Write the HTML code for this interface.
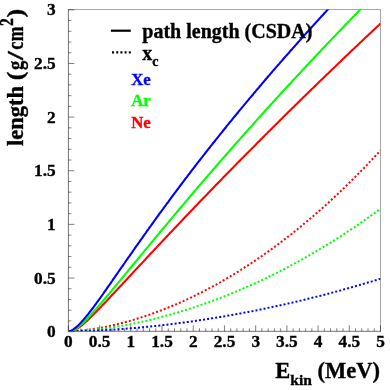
<!DOCTYPE html>
<html><head><meta charset="utf-8"><title>chart</title>
<style>
html,body{margin:0;padding:0;background:#fff;}
body{width:390px;height:390px;overflow:hidden;}
svg{display:block;}
text{font-family:"Liberation Serif",serif;font-weight:bold;fill:#000;stroke:#000;stroke-width:0.35;}
</style></head><body>
<svg width="390" height="390" viewBox="0 0 390 390">
<defs><clipPath id="cp"><rect x="68.4" y="9.5" width="312.1" height="321.8"/></clipPath></defs>
<rect x="0" y="0" width="390" height="390" fill="#fff"/>
<path d="M68.4,9.5 H380.5 V331.3" fill="none" stroke="#000" stroke-width="0.35"/>
<path d="M68.4,9.0 V331.3 H381.0" fill="none" stroke="#000" stroke-width="0.55"/>
<path d="M68.40,331.3 v-6 M74.64,331.3 v-3 M80.88,331.3 v-3 M87.13,331.3 v-3 M93.37,331.3 v-3 M99.61,331.3 v-6 M105.85,331.3 v-3 M112.09,331.3 v-3 M118.34,331.3 v-3 M124.58,331.3 v-3 M130.82,331.3 v-6 M137.06,331.3 v-3 M143.30,331.3 v-3 M149.55,331.3 v-3 M155.79,331.3 v-3 M162.03,331.3 v-6 M168.27,331.3 v-3 M174.51,331.3 v-3 M180.76,331.3 v-3 M187.00,331.3 v-3 M193.24,331.3 v-6 M199.48,331.3 v-3 M205.72,331.3 v-3 M211.97,331.3 v-3 M218.21,331.3 v-3 M224.45,331.3 v-6 M230.69,331.3 v-3 M236.93,331.3 v-3 M243.18,331.3 v-3 M249.42,331.3 v-3 M255.66,331.3 v-6 M261.90,331.3 v-3 M268.14,331.3 v-3 M274.39,331.3 v-3 M280.63,331.3 v-3 M286.87,331.3 v-6 M293.11,331.3 v-3 M299.35,331.3 v-3 M305.60,331.3 v-3 M311.84,331.3 v-3 M318.08,331.3 v-6 M324.32,331.3 v-3 M330.56,331.3 v-3 M336.81,331.3 v-3 M343.05,331.3 v-3 M349.29,331.3 v-6 M355.53,331.3 v-3 M361.77,331.3 v-3 M368.02,331.3 v-3 M374.26,331.3 v-3 M380.50,331.3 v-6 M68.4,331.65 h6 M68.4,320.92 h3 M68.4,310.20 h3 M68.4,299.47 h3 M68.4,288.74 h3 M68.4,278.02 h6 M68.4,267.29 h3 M68.4,256.56 h3 M68.4,245.83 h3 M68.4,235.11 h3 M68.4,224.38 h6 M68.4,213.65 h3 M68.4,202.93 h3 M68.4,192.20 h3 M68.4,181.47 h3 M68.4,170.75 h6 M68.4,160.02 h3 M68.4,149.29 h3 M68.4,138.56 h3 M68.4,127.84 h3 M68.4,117.11 h6 M68.4,106.38 h3 M68.4,95.66 h3 M68.4,84.93 h3 M68.4,74.20 h3 M68.4,63.48 h6 M68.4,52.75 h3 M68.4,42.02 h3 M68.4,31.29 h3 M68.4,20.57 h3 M68.4,9.84 h6" stroke="#000" stroke-width="0.5" fill="none"/>
<g clip-path="url(#cp)" fill="none" stroke-linejoin="round">
<path d="M68.4,331.3 L69.6,331.3 L70.9,331.2 L72.1,331.2 L73.4,331.1 L74.6,331.1 L75.9,331.0 L77.1,330.9 L78.4,330.8 L79.6,330.7 L80.9,330.6 L82.1,330.4 L83.4,330.3 L84.6,330.2 L85.9,330.0 L87.1,329.9 L88.4,329.7 L89.6,329.5 L90.9,329.4 L92.1,329.2 L93.4,329.0 L94.6,328.8 L95.9,328.6 L97.1,328.4 L98.4,328.2 L99.6,327.9 L100.9,327.7 L102.1,327.5 L103.4,327.3 L104.6,327.0 L105.9,326.8 L107.1,326.5 L108.3,326.2 L109.6,326.0 L110.8,325.7 L112.1,325.4 L113.3,325.1 L114.6,324.9 L115.8,324.6 L117.1,324.3 L118.3,323.9 L119.6,323.6 L120.8,323.3 L122.1,323.0 L123.3,322.7 L124.6,322.3 L125.8,322.0 L127.1,321.7 L128.3,321.3 L129.6,321.0 L130.8,320.6 L132.1,320.2 L133.3,319.9 L134.6,319.5 L135.8,319.1 L137.1,318.7 L138.3,318.3 L139.6,318.0 L140.8,317.6 L142.1,317.1 L143.3,316.7 L144.6,316.3 L145.8,315.9 L147.0,315.5 L148.3,315.1 L149.5,314.6 L150.8,314.2 L152.0,313.7 L153.3,313.3 L154.5,312.8 L155.8,312.4 L157.0,311.9 L158.3,311.4 L159.5,311.0 L160.8,310.5 L162.0,310.0 L163.3,309.5 L164.5,309.0 L165.8,308.5 L167.0,308.0 L168.3,307.5 L169.5,307.0 L170.8,306.5 L172.0,306.0 L173.3,305.5 L174.5,304.9 L175.8,304.4 L177.0,303.9 L178.3,303.3 L179.5,302.8 L180.8,302.2 L182.0,301.6 L183.3,301.1 L184.5,300.5 L185.7,299.9 L187.0,299.4 L188.2,298.8 L189.5,298.2 L190.7,297.6 L192.0,297.0 L193.2,296.4 L194.5,295.8 L195.7,295.2 L197.0,294.6 L198.2,293.9 L199.5,293.3 L200.7,292.7 L202.0,292.1 L203.2,291.4 L204.5,290.8 L205.7,290.1 L207.0,289.5 L208.2,288.8 L209.5,288.1 L210.7,287.5 L212.0,286.8 L213.2,286.1 L214.5,285.4 L215.7,284.8 L217.0,284.1 L218.2,283.4 L219.5,282.7 L220.7,282.0 L222.0,281.2 L223.2,280.5 L224.5,279.8 L225.7,279.1 L226.9,278.4 L228.2,277.6 L229.4,276.9 L230.7,276.1 L231.9,275.4 L233.2,274.6 L234.4,273.9 L235.7,273.1 L236.9,272.3 L238.2,271.6 L239.4,270.8 L240.7,270.0 L241.9,269.2 L243.2,268.4 L244.4,267.6 L245.7,266.8 L246.9,266.0 L248.2,265.2 L249.4,264.4 L250.7,263.6 L251.9,262.7 L253.2,261.9 L254.4,261.1 L255.7,260.2 L256.9,259.4 L258.2,258.5 L259.4,257.7 L260.7,256.8 L261.9,256.0 L263.2,255.1 L264.4,254.2 L265.6,253.3 L266.9,252.4 L268.1,251.6 L269.4,250.7 L270.6,249.8 L271.9,248.9 L273.1,248.0 L274.4,247.0 L275.6,246.1 L276.9,245.2 L278.1,244.3 L279.4,243.3 L280.6,242.4 L281.9,241.4 L283.1,240.5 L284.4,239.5 L285.6,238.6 L286.9,237.6 L288.1,236.6 L289.4,235.7 L290.6,234.7 L291.9,233.7 L293.1,232.7 L294.4,231.7 L295.6,230.7 L296.9,229.7 L298.1,228.7 L299.4,227.7 L300.6,226.7 L301.9,225.7 L303.1,224.6 L304.3,223.6 L305.6,222.5 L306.8,221.5 L308.1,220.4 L309.3,219.4 L310.6,218.3 L311.8,217.3 L313.1,216.2 L314.3,215.1 L315.6,214.0 L316.8,212.9 L318.1,211.9 L319.3,210.8 L320.6,209.7 L321.8,208.5 L323.1,207.4 L324.3,206.3 L325.6,205.2 L326.8,204.1 L328.1,202.9 L329.3,201.8 L330.6,200.6 L331.8,199.5 L333.1,198.3 L334.3,197.2 L335.6,196.0 L336.8,194.8 L338.1,193.7 L339.3,192.5 L340.6,191.3 L341.8,190.1 L343.0,188.9 L344.3,187.7 L345.5,186.5 L346.8,185.3 L348.0,184.0 L349.3,182.8 L350.5,181.6 L351.8,180.3 L353.0,179.1 L354.3,177.9 L355.5,176.6 L356.8,175.3 L358.0,174.1 L359.3,172.8 L360.5,171.5 L361.8,170.3 L363.0,169.0 L364.3,167.7 L365.5,166.4 L366.8,165.1 L368.0,163.8 L369.3,162.4 L370.5,161.1 L371.8,159.8 L373.0,158.5 L374.3,157.1 L375.5,155.8 L376.8,154.4 L378.0,153.1 L379.3,151.7 L380.5,150.4" stroke="#f00" stroke-width="2" stroke-dasharray="2 2.1"/>
<path d="M68.4,331.3 L69.6,331.3 L70.9,331.3 L72.1,331.2 L73.4,331.2 L74.6,331.1 L75.9,331.1 L77.1,331.0 L78.4,331.0 L79.6,330.9 L80.9,330.8 L82.1,330.7 L83.4,330.6 L84.6,330.5 L85.9,330.4 L87.1,330.3 L88.4,330.2 L89.6,330.1 L90.9,330.0 L92.1,329.9 L93.4,329.7 L94.6,329.6 L95.9,329.5 L97.1,329.3 L98.4,329.2 L99.6,329.0 L100.9,328.9 L102.1,328.7 L103.4,328.6 L104.6,328.4 L105.9,328.2 L107.1,328.1 L108.3,327.9 L109.6,327.7 L110.8,327.5 L112.1,327.3 L113.3,327.1 L114.6,326.9 L115.8,326.7 L117.1,326.5 L118.3,326.3 L119.6,326.1 L120.8,325.9 L122.1,325.7 L123.3,325.5 L124.6,325.2 L125.8,325.0 L127.1,324.8 L128.3,324.5 L129.6,324.3 L130.8,324.0 L132.1,323.8 L133.3,323.6 L134.6,323.3 L135.8,323.0 L137.1,322.8 L138.3,322.5 L139.6,322.2 L140.8,322.0 L142.1,321.7 L143.3,321.4 L144.6,321.1 L145.8,320.9 L147.0,320.6 L148.3,320.3 L149.5,320.0 L150.8,319.7 L152.0,319.4 L153.3,319.1 L154.5,318.8 L155.8,318.5 L157.0,318.1 L158.3,317.8 L159.5,317.5 L160.8,317.2 L162.0,316.8 L163.3,316.5 L164.5,316.2 L165.8,315.8 L167.0,315.5 L168.3,315.2 L169.5,314.8 L170.8,314.5 L172.0,314.1 L173.3,313.7 L174.5,313.4 L175.8,313.0 L177.0,312.6 L178.3,312.3 L179.5,311.9 L180.8,311.5 L182.0,311.1 L183.3,310.8 L184.5,310.4 L185.7,310.0 L187.0,309.6 L188.2,309.2 L189.5,308.8 L190.7,308.4 L192.0,308.0 L193.2,307.6 L194.5,307.2 L195.7,306.7 L197.0,306.3 L198.2,305.9 L199.5,305.5 L200.7,305.1 L202.0,304.6 L203.2,304.2 L204.5,303.7 L205.7,303.3 L207.0,302.9 L208.2,302.4 L209.5,302.0 L210.7,301.5 L212.0,301.0 L213.2,300.6 L214.5,300.1 L215.7,299.7 L217.0,299.2 L218.2,298.7 L219.5,298.2 L220.7,297.8 L222.0,297.3 L223.2,296.8 L224.5,296.3 L225.7,295.8 L226.9,295.3 L228.2,294.8 L229.4,294.3 L230.7,293.8 L231.9,293.3 L233.2,292.8 L234.4,292.3 L235.7,291.7 L236.9,291.2 L238.2,290.7 L239.4,290.2 L240.7,289.6 L241.9,289.1 L243.2,288.6 L244.4,288.0 L245.7,287.5 L246.9,286.9 L248.2,286.4 L249.4,285.8 L250.7,285.3 L251.9,284.7 L253.2,284.1 L254.4,283.6 L255.7,283.0 L256.9,282.4 L258.2,281.8 L259.4,281.3 L260.7,280.7 L261.9,280.1 L263.2,279.5 L264.4,278.9 L265.6,278.3 L266.9,277.7 L268.1,277.1 L269.4,276.5 L270.6,275.9 L271.9,275.3 L273.1,274.7 L274.4,274.0 L275.6,273.4 L276.9,272.8 L278.1,272.2 L279.4,271.5 L280.6,270.9 L281.9,270.2 L283.1,269.6 L284.4,269.0 L285.6,268.3 L286.9,267.7 L288.1,267.0 L289.4,266.3 L290.6,265.7 L291.9,265.0 L293.1,264.3 L294.4,263.7 L295.6,263.0 L296.9,262.3 L298.1,261.6 L299.4,260.9 L300.6,260.2 L301.9,259.5 L303.1,258.8 L304.3,258.1 L305.6,257.4 L306.8,256.7 L308.1,256.0 L309.3,255.3 L310.6,254.6 L311.8,253.9 L313.1,253.1 L314.3,252.4 L315.6,251.7 L316.8,250.9 L318.1,250.2 L319.3,249.5 L320.6,248.7 L321.8,248.0 L323.1,247.2 L324.3,246.5 L325.6,245.7 L326.8,244.9 L328.1,244.2 L329.3,243.4 L330.6,242.6 L331.8,241.9 L333.1,241.1 L334.3,240.3 L335.6,239.5 L336.8,238.7 L338.1,237.9 L339.3,237.1 L340.6,236.3 L341.8,235.5 L343.0,234.7 L344.3,233.9 L345.5,233.1 L346.8,232.2 L348.0,231.4 L349.3,230.6 L350.5,229.8 L351.8,228.9 L353.0,228.1 L354.3,227.3 L355.5,226.4 L356.8,225.6 L358.0,224.7 L359.3,223.8 L360.5,223.0 L361.8,222.1 L363.0,221.3 L364.3,220.4 L365.5,219.5 L366.8,218.6 L368.0,217.7 L369.3,216.9 L370.5,216.0 L371.8,215.1 L373.0,214.2 L374.3,213.3 L375.5,212.4 L376.8,211.5 L378.0,210.6 L379.3,209.6 L380.5,208.7" stroke="#0f0" stroke-width="2" stroke-dasharray="2 2.1"/>
<path d="M68.4,331.3 L69.6,331.3 L70.9,331.3 L72.1,331.3 L73.4,331.3 L74.6,331.2 L75.9,331.2 L77.1,331.2 L78.4,331.2 L79.6,331.2 L80.9,331.1 L82.1,331.1 L83.4,331.1 L84.6,331.0 L85.9,331.0 L87.1,330.9 L88.4,330.9 L89.6,330.9 L90.9,330.8 L92.1,330.8 L93.4,330.7 L94.6,330.7 L95.9,330.6 L97.1,330.5 L98.4,330.5 L99.6,330.4 L100.9,330.4 L102.1,330.3 L103.4,330.2 L104.6,330.2 L105.9,330.1 L107.1,330.0 L108.3,330.0 L109.6,329.9 L110.8,329.8 L112.1,329.7 L113.3,329.6 L114.6,329.6 L115.8,329.5 L117.1,329.4 L118.3,329.3 L119.6,329.2 L120.8,329.1 L122.1,329.0 L123.3,328.9 L124.6,328.8 L125.8,328.7 L127.1,328.6 L128.3,328.5 L129.6,328.4 L130.8,328.3 L132.1,328.2 L133.3,328.1 L134.6,328.0 L135.8,327.9 L137.1,327.8 L138.3,327.7 L139.6,327.6 L140.8,327.5 L142.1,327.3 L143.3,327.2 L144.6,327.1 L145.8,327.0 L147.0,326.8 L148.3,326.7 L149.5,326.6 L150.8,326.5 L152.0,326.3 L153.3,326.2 L154.5,326.1 L155.8,325.9 L157.0,325.8 L158.3,325.7 L159.5,325.5 L160.8,325.4 L162.0,325.2 L163.3,325.1 L164.5,325.0 L165.8,324.8 L167.0,324.7 L168.3,324.5 L169.5,324.4 L170.8,324.2 L172.0,324.0 L173.3,323.9 L174.5,323.7 L175.8,323.6 L177.0,323.4 L178.3,323.3 L179.5,323.1 L180.8,322.9 L182.0,322.8 L183.3,322.6 L184.5,322.4 L185.7,322.3 L187.0,322.1 L188.2,321.9 L189.5,321.7 L190.7,321.6 L192.0,321.4 L193.2,321.2 L194.5,321.0 L195.7,320.8 L197.0,320.7 L198.2,320.5 L199.5,320.3 L200.7,320.1 L202.0,319.9 L203.2,319.7 L204.5,319.5 L205.7,319.3 L207.0,319.1 L208.2,318.9 L209.5,318.7 L210.7,318.5 L212.0,318.3 L213.2,318.1 L214.5,317.9 L215.7,317.7 L217.0,317.5 L218.2,317.3 L219.5,317.1 L220.7,316.9 L222.0,316.7 L223.2,316.5 L224.5,316.3 L225.7,316.0 L226.9,315.8 L228.2,315.6 L229.4,315.4 L230.7,315.2 L231.9,314.9 L233.2,314.7 L234.4,314.5 L235.7,314.3 L236.9,314.0 L238.2,313.8 L239.4,313.6 L240.7,313.4 L241.9,313.1 L243.2,312.9 L244.4,312.6 L245.7,312.4 L246.9,312.2 L248.2,311.9 L249.4,311.7 L250.7,311.4 L251.9,311.2 L253.2,311.0 L254.4,310.7 L255.7,310.5 L256.9,310.2 L258.2,310.0 L259.4,309.7 L260.7,309.4 L261.9,309.2 L263.2,308.9 L264.4,308.7 L265.6,308.4 L266.9,308.2 L268.1,307.9 L269.4,307.6 L270.6,307.4 L271.9,307.1 L273.1,306.8 L274.4,306.6 L275.6,306.3 L276.9,306.0 L278.1,305.7 L279.4,305.5 L280.6,305.2 L281.9,304.9 L283.1,304.6 L284.4,304.4 L285.6,304.1 L286.9,303.8 L288.1,303.5 L289.4,303.2 L290.6,302.9 L291.9,302.7 L293.1,302.4 L294.4,302.1 L295.6,301.8 L296.9,301.5 L298.1,301.2 L299.4,300.9 L300.6,300.6 L301.9,300.3 L303.1,300.0 L304.3,299.7 L305.6,299.4 L306.8,299.1 L308.1,298.8 L309.3,298.5 L310.6,298.2 L311.8,297.9 L313.1,297.5 L314.3,297.2 L315.6,296.9 L316.8,296.6 L318.1,296.3 L319.3,296.0 L320.6,295.7 L321.8,295.3 L323.1,295.0 L324.3,294.7 L325.6,294.4 L326.8,294.0 L328.1,293.7 L329.3,293.4 L330.6,293.1 L331.8,292.7 L333.1,292.4 L334.3,292.1 L335.6,291.7 L336.8,291.4 L338.1,291.0 L339.3,290.7 L340.6,290.4 L341.8,290.0 L343.0,289.7 L344.3,289.3 L345.5,289.0 L346.8,288.6 L348.0,288.3 L349.3,287.9 L350.5,287.6 L351.8,287.2 L353.0,286.9 L354.3,286.5 L355.5,286.2 L356.8,285.8 L358.0,285.5 L359.3,285.1 L360.5,284.7 L361.8,284.4 L363.0,284.0 L364.3,283.6 L365.5,283.3 L366.8,282.9 L368.0,282.5 L369.3,282.2 L370.5,281.8 L371.8,281.4 L373.0,281.0 L374.3,280.7 L375.5,280.3 L376.8,279.9 L378.0,279.5 L379.3,279.1 L380.5,278.8" stroke="#00f" stroke-width="2" stroke-dasharray="2 2.1"/>
<path d="M68.4,331.3 L69.6,331.3 L70.9,331.2 L72.1,330.9 L73.4,330.5 L74.6,330.0 L75.9,329.4 L77.1,328.7 L78.4,327.9 L79.6,327.0 L80.9,326.1 L82.1,325.1 L83.4,324.0 L84.6,322.9 L85.9,321.8 L87.1,320.7 L88.4,319.5 L89.6,318.3 L90.9,317.1 L92.1,315.8 L93.4,314.6 L94.6,313.3 L95.9,312.1 L97.1,310.8 L98.4,309.5 L99.6,308.2 L100.9,306.9 L102.1,305.6 L103.4,304.3 L104.6,303.0 L105.9,301.7 L107.1,300.4 L108.3,299.0 L109.6,297.7 L110.8,296.4 L112.1,295.0 L113.3,293.7 L114.6,292.4 L115.8,291.0 L117.1,289.7 L118.3,288.4 L119.6,287.0 L120.8,285.7 L122.1,284.4 L123.3,283.0 L124.6,281.7 L125.8,280.3 L127.1,279.0 L128.3,277.6 L129.6,276.3 L130.8,275.0 L132.1,273.6 L133.3,272.3 L134.6,270.9 L135.8,269.6 L137.1,268.3 L138.3,266.9 L139.6,265.6 L140.8,264.2 L142.1,262.9 L143.3,261.6 L144.6,260.2 L145.8,258.9 L147.0,257.5 L148.3,256.2 L149.5,254.9 L150.8,253.5 L152.0,252.2 L153.3,250.9 L154.5,249.5 L155.8,248.2 L157.0,246.9 L158.3,245.5 L159.5,244.2 L160.8,242.9 L162.0,241.6 L163.3,240.2 L164.5,238.9 L165.8,237.6 L167.0,236.3 L168.3,234.9 L169.5,233.6 L170.8,232.3 L172.0,231.0 L173.3,229.6 L174.5,228.3 L175.8,227.0 L177.0,225.7 L178.3,224.4 L179.5,223.1 L180.8,221.7 L182.0,220.4 L183.3,219.1 L184.5,217.8 L185.7,216.5 L187.0,215.2 L188.2,213.9 L189.5,212.6 L190.7,211.3 L192.0,210.0 L193.2,208.7 L194.5,207.3 L195.7,206.0 L197.0,204.7 L198.2,203.4 L199.5,202.1 L200.7,200.8 L202.0,199.5 L203.2,198.2 L204.5,196.9 L205.7,195.7 L207.0,194.4 L208.2,193.1 L209.5,191.8 L210.7,190.5 L212.0,189.2 L213.2,187.9 L214.5,186.6 L215.7,185.3 L217.0,184.0 L218.2,182.8 L219.5,181.5 L220.7,180.2 L222.0,178.9 L223.2,177.6 L224.5,176.3 L225.7,175.1 L226.9,173.8 L228.2,172.5 L229.4,171.2 L230.7,170.0 L231.9,168.7 L233.2,167.4 L234.4,166.1 L235.7,164.9 L236.9,163.6 L238.2,162.3 L239.4,161.1 L240.7,159.8 L241.9,158.5 L243.2,157.3 L244.4,156.0 L245.7,154.7 L246.9,153.5 L248.2,152.2 L249.4,150.9 L250.7,149.7 L251.9,148.4 L253.2,147.2 L254.4,145.9 L255.7,144.7 L256.9,143.4 L258.2,142.1 L259.4,140.9 L260.7,139.6 L261.9,138.4 L263.2,137.1 L264.4,135.9 L265.6,134.6 L266.9,133.4 L268.1,132.1 L269.4,130.9 L270.6,129.7 L271.9,128.4 L273.1,127.2 L274.4,125.9 L275.6,124.7 L276.9,123.4 L278.1,122.2 L279.4,121.0 L280.6,119.7 L281.9,118.5 L283.1,117.3 L284.4,116.0 L285.6,114.8 L286.9,113.6 L288.1,112.3 L289.4,111.1 L290.6,109.9 L291.9,108.6 L293.1,107.4 L294.4,106.2 L295.6,104.9 L296.9,103.7 L298.1,102.5 L299.4,101.3 L300.6,100.0 L301.9,98.8 L303.1,97.6 L304.3,96.4 L305.6,95.2 L306.8,93.9 L308.1,92.7 L309.3,91.5 L310.6,90.3 L311.8,89.1 L313.1,87.9 L314.3,86.7 L315.6,85.4 L316.8,84.2 L318.1,83.0 L319.3,81.8 L320.6,80.6 L321.8,79.4 L323.1,78.2 L324.3,77.0 L325.6,75.8 L326.8,74.6 L328.1,73.4 L329.3,72.2 L330.6,71.0 L331.8,69.8 L333.1,68.6 L334.3,67.4 L335.6,66.2 L336.8,65.0 L338.1,63.8 L339.3,62.6 L340.6,61.4 L341.8,60.2 L343.0,59.0 L344.3,57.8 L345.5,56.6 L346.8,55.4 L348.0,54.2 L349.3,53.0 L350.5,51.8 L351.8,50.6 L353.0,49.5 L354.3,48.3 L355.5,47.1 L356.8,45.9 L358.0,44.7 L359.3,43.5 L360.5,42.3 L361.8,41.2 L363.0,40.0 L364.3,38.8 L365.5,37.6 L366.8,36.4 L368.0,35.3 L369.3,34.1 L370.5,32.9 L371.8,31.7 L373.0,30.6 L374.3,29.4 L375.5,28.2 L376.8,27.0 L378.0,25.9 L379.3,24.7 L380.5,23.5" stroke="#f00" stroke-width="2.1"/>
<path d="M68.4,331.3 L69.6,331.3 L70.9,331.1 L72.1,330.7 L73.4,330.2 L74.6,329.5 L75.9,328.8 L77.1,327.9 L78.4,326.9 L79.6,325.9 L80.9,324.8 L82.1,323.7 L83.4,322.5 L84.6,321.2 L85.9,320.0 L87.1,318.7 L88.4,317.4 L89.6,316.0 L90.9,314.7 L92.1,313.3 L93.4,311.9 L94.6,310.5 L95.9,309.1 L97.1,307.7 L98.4,306.3 L99.6,304.8 L100.9,303.4 L102.1,301.9 L103.4,300.5 L104.6,299.0 L105.9,297.5 L107.1,296.0 L108.3,294.6 L109.6,293.1 L110.8,291.6 L112.1,290.1 L113.3,288.6 L114.6,287.1 L115.8,285.6 L117.1,284.1 L118.3,282.6 L119.6,281.1 L120.8,279.6 L122.1,278.1 L123.3,276.6 L124.6,275.1 L125.8,273.6 L127.1,272.1 L128.3,270.5 L129.6,269.0 L130.8,267.5 L132.1,266.0 L133.3,264.5 L134.6,263.0 L135.8,261.5 L137.1,260.0 L138.3,258.5 L139.6,256.9 L140.8,255.4 L142.1,253.9 L143.3,252.4 L144.6,250.9 L145.8,249.4 L147.0,247.9 L148.3,246.4 L149.5,244.9 L150.8,243.4 L152.0,241.9 L153.3,240.4 L154.5,238.8 L155.8,237.3 L157.0,235.8 L158.3,234.3 L159.5,232.8 L160.8,231.3 L162.0,229.8 L163.3,228.4 L164.5,226.9 L165.8,225.4 L167.0,223.9 L168.3,222.4 L169.5,220.9 L170.8,219.4 L172.0,217.9 L173.3,216.4 L174.5,214.9 L175.8,213.4 L177.0,212.0 L178.3,210.5 L179.5,209.0 L180.8,207.5 L182.0,206.0 L183.3,204.6 L184.5,203.1 L185.7,201.6 L187.0,200.1 L188.2,198.7 L189.5,197.2 L190.7,195.7 L192.0,194.3 L193.2,192.8 L194.5,191.3 L195.7,189.9 L197.0,188.4 L198.2,187.0 L199.5,185.5 L200.7,184.0 L202.0,182.6 L203.2,181.1 L204.5,179.7 L205.7,178.2 L207.0,176.8 L208.2,175.3 L209.5,173.9 L210.7,172.4 L212.0,171.0 L213.2,169.5 L214.5,168.1 L215.7,166.7 L217.0,165.2 L218.2,163.8 L219.5,162.4 L220.7,160.9 L222.0,159.5 L223.2,158.1 L224.5,156.6 L225.7,155.2 L226.9,153.8 L228.2,152.4 L229.4,150.9 L230.7,149.5 L231.9,148.1 L233.2,146.7 L234.4,145.3 L235.7,143.8 L236.9,142.4 L238.2,141.0 L239.4,139.6 L240.7,138.2 L241.9,136.8 L243.2,135.4 L244.4,134.0 L245.7,132.6 L246.9,131.2 L248.2,129.8 L249.4,128.4 L250.7,127.0 L251.9,125.6 L253.2,124.2 L254.4,122.8 L255.7,121.4 L256.9,120.0 L258.2,118.6 L259.4,117.2 L260.7,115.8 L261.9,114.4 L263.2,113.1 L264.4,111.7 L265.6,110.3 L266.9,108.9 L268.1,107.5 L269.4,106.2 L270.6,104.8 L271.9,103.4 L273.1,102.0 L274.4,100.7 L275.6,99.3 L276.9,97.9 L278.1,96.6 L279.4,95.2 L280.6,93.8 L281.9,92.5 L283.1,91.1 L284.4,89.8 L285.6,88.4 L286.9,87.0 L288.1,85.7 L289.4,84.3 L290.6,83.0 L291.9,81.6 L293.1,80.3 L294.4,78.9 L295.6,77.6 L296.9,76.2 L298.1,74.9 L299.4,73.6 L300.6,72.2 L301.9,70.9 L303.1,69.5 L304.3,68.2 L305.6,66.9 L306.8,65.5 L308.1,64.2 L309.3,62.9 L310.6,61.5 L311.8,60.2 L313.1,58.9 L314.3,57.5 L315.6,56.2 L316.8,54.9 L318.1,53.6 L319.3,52.2 L320.6,50.9 L321.8,49.6 L323.1,48.3 L324.3,47.0 L325.6,45.7 L326.8,44.3 L328.1,43.0 L329.3,41.7 L330.6,40.4 L331.8,39.1 L333.1,37.8 L334.3,36.5 L335.6,35.2 L336.8,33.9 L338.1,32.6 L339.3,31.3 L340.6,30.0 L341.8,28.7 L343.0,27.4 L344.3,26.1 L345.5,24.8 L346.8,23.5 L348.0,22.2 L349.3,20.9 L350.5,19.6 L351.8,18.3 L353.0,17.0 L354.3,15.8 L355.5,14.5 L356.8,13.2 L358.0,11.9 L359.3,10.6 L360.5,9.4 L361.8,8.1 L363.0,6.8 L364.3,5.5 L365.5,4.2" stroke="#0f0" stroke-width="2.1"/>
<path d="M68.4,331.3 L69.6,331.1 L70.9,330.7 L72.1,330.1 L73.4,329.3 L74.6,328.4 L75.9,327.4 L77.1,326.4 L78.4,325.2 L79.6,324.0 L80.9,322.6 L82.1,321.3 L83.4,319.9 L84.6,318.4 L85.9,316.9 L87.1,315.4 L88.4,313.8 L89.6,312.2 L90.9,310.6 L92.1,309.0 L93.4,307.3 L94.6,305.6 L95.9,303.9 L97.1,302.2 L98.4,300.5 L99.6,298.8 L100.9,297.0 L102.1,295.3 L103.4,293.5 L104.6,291.7 L105.9,290.0 L107.1,288.2 L108.3,286.4 L109.6,284.6 L110.8,282.8 L112.1,281.0 L113.3,279.2 L114.6,277.4 L115.8,275.6 L117.1,273.8 L118.3,272.0 L119.6,270.2 L120.8,268.4 L122.1,266.6 L123.3,264.8 L124.6,263.0 L125.8,261.2 L127.1,259.4 L128.3,257.6 L129.6,255.9 L130.8,254.1 L132.1,252.3 L133.3,250.5 L134.6,248.7 L135.8,246.9 L137.1,245.2 L138.3,243.4 L139.6,241.6 L140.8,239.8 L142.1,238.1 L143.3,236.3 L144.6,234.5 L145.8,232.8 L147.0,231.0 L148.3,229.3 L149.5,227.5 L150.8,225.8 L152.0,224.1 L153.3,222.3 L154.5,220.6 L155.8,218.9 L157.0,217.1 L158.3,215.4 L159.5,213.7 L160.8,212.0 L162.0,210.3 L163.3,208.6 L164.5,206.9 L165.8,205.2 L167.0,203.5 L168.3,201.8 L169.5,200.1 L170.8,198.4 L172.0,196.7 L173.3,195.0 L174.5,193.3 L175.8,191.7 L177.0,190.0 L178.3,188.3 L179.5,186.7 L180.8,185.0 L182.0,183.4 L183.3,181.7 L184.5,180.0 L185.7,178.4 L187.0,176.8 L188.2,175.1 L189.5,173.5 L190.7,171.9 L192.0,170.2 L193.2,168.6 L194.5,167.0 L195.7,165.4 L197.0,163.7 L198.2,162.1 L199.5,160.5 L200.7,158.9 L202.0,157.3 L203.2,155.7 L204.5,154.1 L205.7,152.5 L207.0,150.9 L208.2,149.3 L209.5,147.8 L210.7,146.2 L212.0,144.6 L213.2,143.0 L214.5,141.5 L215.7,139.9 L217.0,138.3 L218.2,136.8 L219.5,135.2 L220.7,133.6 L222.0,132.1 L223.2,130.5 L224.5,129.0 L225.7,127.5 L226.9,125.9 L228.2,124.4 L229.4,122.8 L230.7,121.3 L231.9,119.8 L233.2,118.2 L234.4,116.7 L235.7,115.2 L236.9,113.7 L238.2,112.2 L239.4,110.6 L240.7,109.1 L241.9,107.6 L243.2,106.1 L244.4,104.6 L245.7,103.1 L246.9,101.6 L248.2,100.1 L249.4,98.6 L250.7,97.1 L251.9,95.7 L253.2,94.2 L254.4,92.7 L255.7,91.2 L256.9,89.7 L258.2,88.3 L259.4,86.8 L260.7,85.3 L261.9,83.8 L263.2,82.4 L264.4,80.9 L265.6,79.5 L266.9,78.0 L268.1,76.5 L269.4,75.1 L270.6,73.6 L271.9,72.2 L273.1,70.7 L274.4,69.3 L275.6,67.9 L276.9,66.4 L278.1,65.0 L279.4,63.6 L280.6,62.1 L281.9,60.7 L283.1,59.3 L284.4,57.8 L285.6,56.4 L286.9,55.0 L288.1,53.6 L289.4,52.2 L290.6,50.7 L291.9,49.3 L293.1,47.9 L294.4,46.5 L295.6,45.1 L296.9,43.7 L298.1,42.3 L299.4,40.9 L300.6,39.5 L301.9,38.1 L303.1,36.7 L304.3,35.3 L305.6,33.9 L306.8,32.5 L308.1,31.2 L309.3,29.8 L310.6,28.4 L311.8,27.0 L313.1,25.6 L314.3,24.3 L315.6,22.9 L316.8,21.5 L318.1,20.1 L319.3,18.8 L320.6,17.4 L321.8,16.0 L323.1,14.7 L324.3,13.3 L325.6,12.0 L326.8,10.6 L328.1,9.3 L329.3,7.9 L330.6,6.6 L331.8,5.2 L333.1,3.9" stroke="#00f" stroke-width="2.1"/>
</g>
<g style="filter:grayscale(1)"><g font-size="17.3"><text x="68.4" y="347.1" text-anchor="middle">0</text><text x="99.6" y="347.1" text-anchor="middle">0.5</text><text x="130.8" y="347.1" text-anchor="middle">1</text><text x="162.0" y="347.1" text-anchor="middle">1.5</text><text x="193.2" y="347.1" text-anchor="middle">2</text><text x="224.5" y="347.1" text-anchor="middle">2.5</text><text x="255.7" y="347.1" text-anchor="middle">3</text><text x="286.9" y="347.1" text-anchor="middle">3.5</text><text x="318.1" y="347.1" text-anchor="middle">4</text><text x="349.3" y="347.1" text-anchor="middle">4.5</text><text x="380.5" y="347.1" text-anchor="middle">5</text><text x="55.7" y="337.1" text-anchor="end">0</text><text x="55.7" y="283.5" text-anchor="end">0.5</text><text x="55.7" y="229.8" text-anchor="end">1</text><text x="55.7" y="176.2" text-anchor="end">1.5</text><text x="55.7" y="122.6" text-anchor="end">2</text><text x="55.7" y="68.9" text-anchor="end">2.5</text><text x="55.7" y="15.3" text-anchor="end">3</text></g>
<text x="380" y="377.8" font-size="22.5" text-anchor="end">E<tspan font-size="15.5" dy="7">kin</tspan><tspan dy="-7"> (MeV)</tspan></text>
<text transform="translate(23.4,145.9) rotate(-90)" font-size="22.5">length</text>
<text transform="translate(23.4,80.2) rotate(-90) scale(1.15,1)" font-size="22.5">(</text><text transform="translate(23.4,70.0) rotate(-90) scale(0.82,1)" font-size="22.5">g</text><text transform="translate(23.4,60.0) rotate(-90) scale(1.4,1)" font-size="22.5">/</text><text transform="translate(23.4,49.8) rotate(-90) scale(0.82,1)" font-size="22.5">c</text><text transform="translate(23.4,41.2) rotate(-90) scale(0.78,1)" font-size="22.5">m</text><text transform="translate(12.5,25.9) rotate(-90) scale(0.87,1)" font-size="18">2</text><text transform="translate(23.4,17.5) rotate(-90) scale(1.15,1)" font-size="22.5">)</text>
<path d="M110.9,30.7 H130.8" stroke="#000" stroke-width="2.2" fill="none"/>
<path d="M112,52.45 H130.8" stroke="#000" stroke-width="2.2" stroke-dasharray="2 2.2" fill="none"/>
<text x="142.3" y="38.2" font-size="20">path length (CSDA)</text>
<text x="142.3" y="60.0" font-size="20">x<tspan font-size="14" dy="5.7">c</tspan></text>
</g><g font-size="16.8" style="filter:blur(0.25px)">
<text x="131.2" y="84.9" style="fill:#00f;stroke:#00f">Xe</text>
<text x="131.2" y="106.4" style="fill:#0f0;stroke:#0f0">Ar</text>
<text x="131.2" y="127.9" style="fill:#f00;stroke:#f00">Ne</text>
</g>
</svg>
</body></html>
